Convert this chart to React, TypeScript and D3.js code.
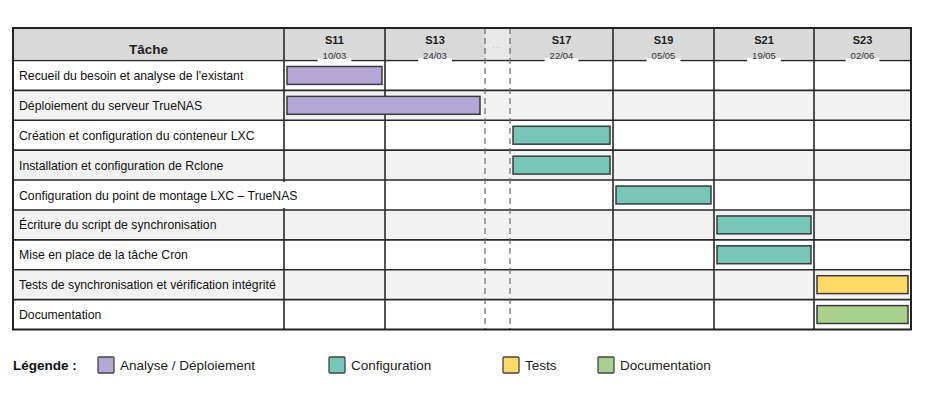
import React, { useMemo } from "react";
import * as d3 from "d3";

// ---------- data ----------
const taskNames = [
  "Recueil du besoin et analyse de l'existant",
  "Déploiement du serveur TrueNAS",
  "Création et configuration du conteneur LXC",
  "Installation et configuration de Rclone",
  "Configuration du point de montage LXC – TrueNAS",
  "Écriture du script de synchronisation",
  "Mise en place de la tâche Cron",
  "Tests de synchronisation et vérification intégrité",
  "Documentation",
];
const taskStart = ["S11", "S11", "S17", "S17", "S19", "S21", "S21", "S23", "S23"];
const taskEnd = ["S11", "S13", "S17", "S17", "S19", "S21", "S21", "S23", "S23"];
const taskCategory = ["analyse", "analyse", "config", "config", "config", "config", "config", "tests", "doc"];

const columnKeys = ["S11", "S13", "gap", "S17", "S19", "S21", "S23"];
const columnLabels = ["S11", "S13", "…", "S17", "S19", "S21", "S23"];
const columnDates = ["10/03", "24/03", "", "22/04", "05/05", "19/05", "02/06"];

const categoryKeys = ["analyse", "config", "tests", "doc"];
const categoryLabels = ["Analyse / Déploiement", "Configuration", "Tests", "Documentation"];
const categoryColors = ["#b4a7d6", "#76c7b7", "#ffd966", "#a9d18e"];

// ---------- layout ----------
const W = 938;
const H = 416;
const tableLeft = 13;
const tableRight = 911;
const taskColRight = 284;
const tableTop = 28;
const headerBottom = 60.5;
const tableBottom = 329.5;
const columnWeights = [1.01, 1.0, 0.25, 1.03, 1.01, 1.0, 0.97];
const legendOffsets = [98, 329, 503, 598];
const legendY = 365;
const FONT = "'Liberation Sans', Arial, Helvetica, sans-serif";
const TASK_FS = 12.25;
const LEGEND_FS = 13.5;

function measure(text: string, font: string): number {
  const c = document.createElement("canvas");
  const ctx = c.getContext("2d");
  if (!ctx) return text.length * 6;
  ctx.font = font;
  return ctx.measureText(text).width;
}

export default function App() {
  const cum = useMemo(() => {
    const arr = [0];
    columnWeights.forEach((w) => arr.push(arr[arr.length - 1] + w));
    return arr;
  }, []);
  const xScale = d3.scaleLinear().domain([0, cum[cum.length - 1]]).range([taskColRight, tableRight]);
  const colLeft = (k: string) => xScale(cum[columnKeys.indexOf(k)]);
  const colRight = (k: string) => xScale(cum[columnKeys.indexOf(k) + 1]);

  const yScale = d3.scaleBand<string>().domain(taskNames).range([headerBottom, tableBottom]);
  const step = yScale.step();
  const color = d3.scaleOrdinal<string, string>().domain(categoryKeys).range(categoryColors);

  const gridColor = "#2a2a2a";
  const rowFill = (i: number) => (i % 2 === 1 ? "#f2f2f2" : "#ffffff");

  return (
    <svg
      width={W}
      height={H}
      style={{ position: "absolute", left: 0, top: 0, background: "#fff" }}
      fontFamily={FONT}
    >
      {/* row backgrounds */}
      {taskNames.map((t, i) => (
        <rect key={"bg" + i} x={tableLeft} y={yScale(t)} width={tableRight - tableLeft} height={step} fill={rowFill(i)} />
      ))}
      {/* header */}
      <rect x={tableLeft} y={tableTop} width={tableRight - tableLeft} height={headerBottom - tableTop} fill="#d9d9d9" />
      <rect x={colLeft("gap")} y={tableTop} width={colRight("gap") - colLeft("gap")} height={headerBottom - tableTop} fill="#e8e8e8" />
      <line x1={tableLeft} x2={tableRight} y1={headerBottom - 1.2} y2={headerBottom - 1.2} stroke="#fff" strokeWidth={1} />

      {/* horizontal grid lines */}
      {taskNames.map((t, i) => (
        <line key={"h" + i} x1={tableLeft} x2={tableRight} y1={yScale(t)} y2={yScale(t)} stroke={gridColor} strokeWidth={1.6} />
      ))}
      {/* vertical lines */}
      <line x1={taskColRight} x2={taskColRight} y1={tableTop} y2={tableBottom} stroke={gridColor} strokeWidth={1.6} />
      {columnKeys.map((k, i) => {
        if (i === columnKeys.length - 1) return null;
        const x = colRight(k);
        const dashed = k === "gap" || columnKeys[i + 1] === "gap";
        return (
          <line
            key={"v" + k}
            x1={x}
            x2={x}
            y1={tableTop}
            y2={tableBottom}
            stroke={dashed ? "#6a6a6a" : gridColor}
            strokeWidth={dashed ? 1.2 : 1.6}
            strokeDasharray={dashed ? "6,4" : undefined}
          />
        );
      })}

      {/* header texts */}
      <rect x={(taskColRight + tableLeft) / 2 - 26} y={headerBottom - 3} width={52} height={2} fill="#d9d9d9" />
      <text x={(tableLeft + taskColRight) / 2} y={54} textAnchor="middle" fontSize={13.5} fontWeight="bold" fill="#222">
        Tâche
      </text>
      {columnKeys.map((k, i) => {
        const cx = (colLeft(k) + colRight(k)) / 2;
        if (k === "gap") {
          return (
            <text key={"hl" + k} x={cx} y={50} textAnchor="middle" fontSize={8} fill="#aaa" letterSpacing={1}>
              {"···"}
            </text>
          );
        }
        const dw = measure(columnDates[i], `9.5px ${FONT}`) + 10;
        return (
          <g key={"hl" + k}>
            <text x={cx} y={44} textAnchor="middle" fontSize={11} fontWeight="bold" fill="#222">
              {columnLabels[i]}
            </text>
            <rect x={cx - dw / 2} y={headerBottom - 2.5} width={dw} height={4} fill="#fff" />
            <text x={cx} y={59} textAnchor="middle" fontSize={9.5} fill="#333">
              {columnDates[i]}
            </text>
          </g>
        );
      })}

      {/* task labels */}
      {taskNames.map((t, i) => {
        const w = measure(t, `${TASK_FS}px ${FONT}`);
        const y0 = yScale(t) as number;
        return (
          <g key={"tl" + i}>
            <rect x={18} y={y0 + 2} width={w + 2} height={step - 4} fill={rowFill(i)} />
            <text x={19} y={y0 + step / 2 + 4.5} fontSize={TASK_FS} fill="#111">
              {t}
            </text>
          </g>
        );
      })}

      {/* bars */}
      {taskNames.map((t, i) => {
        const x0 = colLeft(taskStart[i]) + 3;
        const x1 = colRight(taskEnd[i]) - (taskStart[i] === taskEnd[i] ? 3 : 5);
        const y0 = (yScale(t) as number) + 6;
        return (
          <rect
            key={"bar" + i}
            x={x0}
            y={y0}
            width={x1 - x0}
            height={step - 12}
            fill={color(taskCategory[i])}
            stroke="#3a3a3a"
            strokeWidth={1.5}
          />
        );
      })}

      {/* outer border */}
      <rect
        x={tableLeft}
        y={tableTop}
        width={tableRight - tableLeft}
        height={tableBottom - tableTop}
        fill="none"
        stroke="#222"
        strokeWidth={2}
      />

      {/* legend */}
      <text x={13} y={legendY + 5} fontSize={LEGEND_FS} fontWeight="bold" fill="#111">
        Légende :
      </text>
      {categoryKeys.map((k, i) => (
        <g key={"lg" + k} transform={`translate(${legendOffsets[i]},${legendY - 8})`}>
          <rect x={0} y={0} width={16} height={16} fill={color(k)} stroke="#444" strokeWidth={1.3} rx={1} />
          <text x={22} y={13} fontSize={LEGEND_FS} fill="#222">
            {categoryLabels[i]}
          </text>
        </g>
      ))}
    </svg>
  );
}
